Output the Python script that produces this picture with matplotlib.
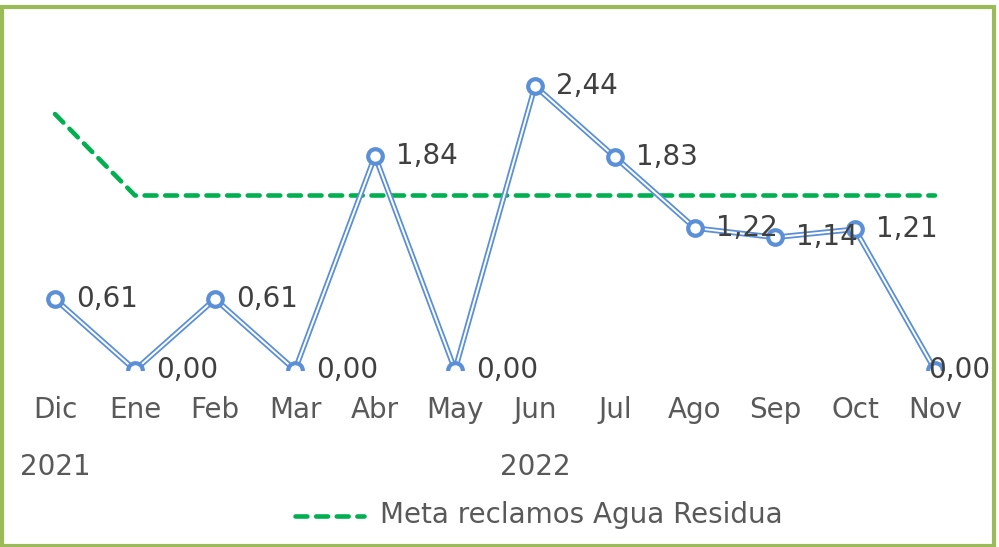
import matplotlib
matplotlib.use("Agg")
import matplotlib.pyplot as plt
from matplotlib.patches import Rectangle

meses = ["Dic", "Ene", "Feb", "Mar", "Abr", "May", "Jun", "Jul", "Ago", "Sep", "Oct", "Nov"]
anios = ["2021", "2022"]
reclamos = [0.61, 0.00, 0.61, 0.00, 1.84, 0.00, 2.44, 1.83, 1.22, 1.14, 1.21, 0.00]
meta = [2.2, 1.5, 1.5, 1.5, 1.5, 1.5, 1.5, 1.5, 1.5, 1.5, 1.5, 1.5]
nombre_meta = "Meta reclamos Agua Residua"

plt.rcParams['font.family'] = ['DejaVu Sans']
W, H = 999, 547
fs = 20
fig = plt.figure(figsize=(W / 100, H / 100), dpi=100)

# marco verde
fig.patches.append(Rectangle((1.5 / W, 1.5 / H), (W - 7) / W, (H - 8) / H,
                             transform=fig.transFigure, fill=False,
                             edgecolor="#9BBB59", linewidth=3))

# ejes: x de 15 a 975 px, y=0 en 370 px
ax = fig.add_axes([15 / W, 1 - 370 / H, 960 / W, 349 / H])
ax.set_xlim(-0.5, 11.5)
ax.set_ylim(0, 3.0)
ax.axis("off")

x = list(range(len(meses)))
azul = "#5B8FD6"
verde = "#00B050"

ax.plot(x, meta, color=verde, lw=3.3, dashes=(2.6, 1.9),
        dash_capstyle="round", solid_capstyle="round", zorder=2)

# linea doble
ax.plot(x, reclamos, color=azul, lw=4.0, zorder=3, solid_joinstyle="round")
ax.plot(x, reclamos, color="white", lw=1.4, zorder=4, solid_joinstyle="round")
ax.plot(x, reclamos, ls="none", marker="o", ms=10.5, mfc="white", mec=azul,
        mew=3, zorder=5)

for xi, v in zip(x, reclamos):
    txt = ("%.2f" % v).replace(".", ",")
    if xi == len(x) - 1:
        # el ultimo se corre hacia adentro, como en el original
        ax.annotate(txt, (xi, v), xytext=(40, 0), textcoords="offset points",
                    ha="right", va="center", fontsize=fs, color="#404040",
                    zorder=6, clip_on=False)
    else:
        ax.annotate(txt, (xi, v), xytext=(15, 0), textcoords="offset points",
                    ha="left", va="center", fontsize=fs, color="#404040",
                    zorder=6, clip_on=False)

for xi, m in zip(x, meses):
    fig.text((55 + 80 * xi) / W, 1 - 410 / H, m, ha="center", va="center",
             fontsize=fs, color="#595959")

fig.text(55 / W, 1 - 467 / H, anios[0], ha="center", va="center",
         fontsize=fs, color="#595959")
fig.text(535 / W, 1 - 467 / H, anios[1], ha="center", va="center",
         fontsize=fs, color="#595959")

# leyenda
fig.lines.append(plt.Line2D([295 / W, 364 / W], [1 - 516 / H, 1 - 516 / H],
                            transform=fig.transFigure, color=verde, lw=3.3,
                            dashes=(2.6, 1.9), dash_capstyle="round"))
fig.text(380 / W, 1 - 515 / H, nombre_meta, ha="left", va="center",
         fontsize=fs, color="#595959")

fig.savefig("out.png", dpi=100)
